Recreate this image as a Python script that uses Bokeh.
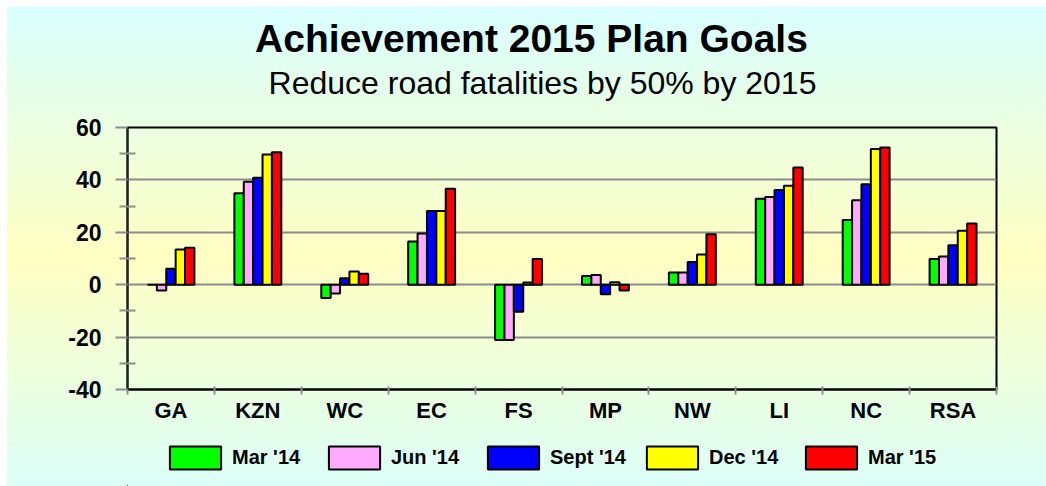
from bokeh.plotting import figure
from bokeh.layouts import column
from bokeh.models import (ColumnDataSource, FixedTicker, Legend, LegendItem,
                          Label, Range1d)
from bokeh.transform import dodge
from bokeh.embed import file_html
from bokeh.resources import INLINE

# ---------------- data ----------------
categories = ["GA", "KZN", "WC", "EC", "FS", "MP", "NW", "LI", "NC", "RSA"]
series_names = ["Mar '14", "Jun '14", "Sept '14", "Dec '14", "Mar '15"]
mar14 = [0.0, 34.9, -5.1, 16.5, -21.1, 3.3, 4.7, 32.8, 24.7, 9.8]
jun14 = [-2.2, 39.3, -3.4, 19.5, -21.1, 3.7, 4.7, 33.5, 32.2, 10.8]
sep14 = [6.1, 40.8, 2.5, 28.1, -10.3, -3.6, 8.7, 36.1, 38.3, 15.1]
dec14 = [13.4, 49.7, 5.0, 28.1, 0.8, 0.9, 11.5, 37.8, 51.8, 20.6]
mar15 = [14.1, 50.6, 4.2, 36.6, 9.8, -2.2, 19.3, 44.7, 52.4, 23.4]
y_ticks = [-40, -20, 0, 20, 40, 60]
y_minor_ticks = [-30, -10, 10, 30, 50]
y_tick_labels = ["-40", "-20", "0", "20", "40", "60"]
title_text = "Achievement 2015 Plan Goals"
subtitle_text = "Reduce road fatalities by 50% by 2015"

colors = ["#00ff00", "#ffaaff", "#0000ff", "#ffff00", "#ff0000"]
series_values = [mar14, jun14, sep14, dec14, mar15]
keys = ["s0", "s1", "s2", "s3", "s4"]

n = len(categories)
xpos = [i + 0.5 for i in range(n)]
data = {"x": xpos, "cat": categories}
for k, v in zip(keys, series_values):
    data[k] = v
src = ColumnDataSource(data)

FONT = "Liberation Sans"


def strip(height):
    f = figure(width=1039, height=height, x_range=Range1d(0, 1), y_range=Range1d(0, 1),
               x_axis_type=None, y_axis_type=None, output_backend="svg",
               toolbar_location=None, min_border=0,
               min_border_top=0, min_border_bottom=0)
    f.border_fill_color = None
    f.background_fill_color = None
    f.outline_line_color = None
    return f


# ---------------- title strip ----------------
tp = strip(100)
tp.add_layout(Label(x=404, y=69, x_units="screen", y_units="screen",
                    text=title_text, text_font=FONT, text_font_style="bold",
                    text_font_size="39px", text_align="center",
                    text_baseline="alphabetic", text_color="black"))
tp.add_layout(Label(x=415, y=25, x_units="screen", y_units="screen",
                    text=subtitle_text, text_font=FONT, text_font_style="normal",
                    text_font_size="32px", text_align="center",
                    text_baseline="alphabetic", text_color="black"))

# ---------------- main chart ----------------
p = figure(frame_width=869, frame_height=262, x_range=Range1d(0, n), y_range=Range1d(-40, 60),
           output_backend="svg", toolbar_location=None,
           min_border_left=120, min_border_right=50,
           min_border_top=20, min_border_bottom=40)
p.border_fill_color = None
p.background_fill_color = None
p.outline_line_color = "black"
p.outline_line_width = 2

# grid
p.xgrid.visible = False
p.ygrid.ticker = FixedTicker(ticks=y_ticks)
p.ygrid.grid_line_color = "#8c8c8c"
p.ygrid.grid_line_width = 2

# x axis
xa = p.xaxis[0]
xa.ticker = FixedTicker(ticks=xpos, minor_ticks=list(range(0, n + 1)))
xa.major_label_overrides = {x: c for x, c in zip(xpos, categories)}
xa.major_tick_line_color = None
xa.major_tick_in = 0
xa.major_tick_out = 5
xa.minor_tick_line_color = "#8c8c8c"
xa.minor_tick_line_width = 2
xa.minor_tick_in = 3
xa.minor_tick_out = 5
xa.axis_line_color = "black"
xa.axis_line_width = 2
xa.major_label_standoff = 3
xa.major_label_text_font = FONT
xa.major_label_text_font_style = "bold"
xa.major_label_text_font_size = "22px"
xa.major_label_text_color = "black"

# y axis
ya = p.yaxis[0]
ya.ticker = FixedTicker(ticks=y_ticks, minor_ticks=y_minor_ticks)
ya.major_label_overrides = {t: l for t, l in zip(y_ticks, y_tick_labels)}
ya.major_tick_in = 0
ya.major_tick_out = 12
ya.major_tick_line_color = "#8c8c8c"
ya.major_tick_line_width = 2
ya.minor_tick_in = 8
ya.minor_tick_out = 8
ya.minor_tick_line_color = "#8c8c8c"
ya.minor_tick_line_width = 2
ya.axis_line_color = "#222222"
ya.axis_line_width = 2
ya.major_label_standoff = 14
ya.major_label_text_font = FONT
ya.major_label_text_font_style = "bold"
ya.major_label_text_font_size = "23px"
ya.major_label_text_color = "black"

# bars
bw = 0.108
offsets = [-2 * bw, -bw, 0, bw, 2 * bw]
for k, col, off in zip(keys, colors, offsets):
    p.vbar(x=dodge("x", off, range=p.x_range), top=k, width=bw, source=src,
           fill_color=col, line_color="black", line_width=2)

# ---------------- legend strip ----------------
lp = strip(57)
items = []
for name, col in zip(series_names, colors):
    # off-screen proxy glyph, only used for the legend swatch
    r = lp.vbar(x=[-5], top=[-5], bottom=[-6], width=0.1,
                fill_color=col, line_color="black", line_width=2)
    items.append(LegendItem(label=name, renderers=[r]))

legend = Legend(items=items, orientation="horizontal", location=(36, 14),
                glyph_width=64, glyph_height=29, label_width=80, label_standoff=5,
                spacing=10, padding=4, margin=0,
                label_text_font=FONT, label_text_font_style="bold",
                label_text_font_size="20px", label_text_color="black",
                border_line_color=None, background_fill_alpha=0)
lp.add_layout(legend, "center")

layout = column(tp, p, lp, spacing=0)
layout.styles = {"background": "linear-gradient(to bottom, #d9ffff 0%, #ffffc2 52%, #dcfff8 100%)",
                 "margin-left": "7px", "margin-top": "7px"}

open("out.html", "w").write(file_html(layout, INLINE))
